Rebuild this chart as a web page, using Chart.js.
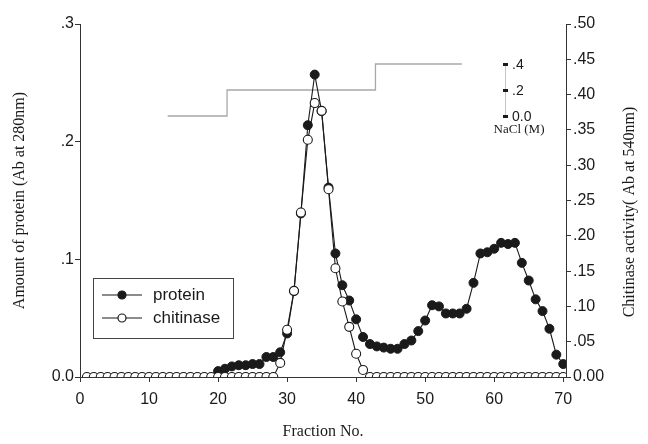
<!DOCTYPE html>
<html><head><meta charset="utf-8">
<script src="https://cdn.jsdelivr.net/npm/chart.js@4/dist/chart.umd.min.js"></script>
<style>html,body{margin:0;padding:0;background:#fff}#wrap{width:648px;height:444px}</style>
</head><body><div id="wrap"><canvas id="c" width="648" height="444"></canvas></div>
<script>
const fractions = [1,2,3,4,5,6,7,8,9,10,11,12,13,14,15,16,17,18,19,20,
  21,22,23,24,25,26,27,28,29,30,31,32,33,34,35,36,37,38,39,40,
  41,42,43,44,45,46,47,48,49,50,51,52,53,54,55,56,57,58,59,60,
  61,62,63,64,65,66,67,68,69,70];
const protein = [null,null,null,null,null,null,null,null,null,null,
  null,null,null,null,null,null,null,null,null,0.005,
  0.007,0.009,0.010,0.010,0.011,0.011,0.017,0.017,0.021,0.037,
  0.073,0.139,0.214,0.257,0.226,0.161,0.105,0.078,0.065,0.049,
  0.034,0.028,0.026,0.025,0.024,0.024,0.028,0.031,0.039,0.048,
  0.061,0.060,0.054,0.054,0.054,0.058,0.080,0.105,0.106,0.109,
  0.114,0.113,0.114,0.097,0.082,0.066,0.056,0.041,0.019,0.011];
const chitinase = [0,0,0,0,0,0,0,0,0,0,
  0,0,0,0,0,0,0,0,0,0,
  0,0,0,0,0,0,0,0,0.020,0.067,
  0.122,0.233,0.336,0.388,0.377,0.266,0.154,0.107,0.071,0.033,
  0.010,0,0,0,0,0,0,0,0,0,
  0,0,0,0,0,0,0,0,0,0,
  0,0,0,0,0,0,0,0,0,0];
const naclFraction = [12.7, 21.3, 42.8, 55.3];
const naclMolar = [0, 0.2, 0.4, 0.4];
const naclTicks = [0, 0.2, 0.4];
const naclTickLabels = ['0.0', '.2', '.4'];
const xTicks = [0,10,20,30,40,50,60,70];
const leftTicks = [0, 0.1, 0.2, 0.3];
const leftTickLabels = ['0.0', '.1', '.2', '.3'];
const rightTicks = [0,0.05,0.1,0.15,0.2,0.25,0.3,0.35,0.4,0.45,0.5];
const rightTickLabels = ['0.00','.05','.10','.15','.20','.25','.30','.35','.40','.45','.50'];
const seriesNames = ['protein', 'chitinase'];
const xTitle = 'Fraction No.';
const leftTitle = 'Amount of protein (Ab at 280nm)';
const rightTitle = 'Chitinase activity( Ab at 540nm)';
const naclTitle = 'NaCl (M)';

const SANS = '"Liberation Sans", Arial, sans-serif';
const SERIF = '"Liberation Serif", "Times New Roman", serif';
const INK = '#1a1a1a';

const overlay = {
  id: 'overlay',
  afterDraw(chart) {
    const ctx = chart.ctx;
    const xs = chart.scales.x, ns = chart.scales.nacl;
    ctx.save();
    // NaCl mini axis
    const ax = Math.round(xs.getPixelForValue(61.6));
    ctx.strokeStyle = '#c4c4c4'; ctx.lineWidth = 1;
    ctx.beginPath();
    ctx.moveTo(ax + 0.5, ns.getPixelForValue(naclTicks[0]));
    ctx.lineTo(ax + 0.5, ns.getPixelForValue(naclTicks[naclTicks.length - 1]));
    ctx.stroke();
    ctx.fillStyle = INK;
    ctx.font = '14px ' + SANS;
    ctx.textBaseline = 'middle'; ctx.textAlign = 'left';
    naclTicks.forEach((v, i) => {
      const y = ns.getPixelForValue(v);
      ctx.fillRect(ax - 2, y - 1, 5, 3);
      ctx.fillText(naclTickLabels[i], ax + 7, y + 1);
    });
    ctx.font = '13px ' + SERIF;
    ctx.textAlign = 'center';
    ctx.fillText(naclTitle, ax + 14, ns.getPixelForValue(naclTicks[0]) + 14);
    // right title (reads bottom to top)
    ctx.save();
    ctx.translate(630, 212);
    ctx.rotate(-Math.PI / 2);
    ctx.font = '16px ' + SERIF;
    ctx.textAlign = 'center'; ctx.textBaseline = 'middle';
    ctx.fillText(rightTitle, 0, 0);
    ctx.restore();
    // legend
    ctx.strokeStyle = '#444'; ctx.lineWidth = 1;
    ctx.strokeRect(93.5, 278.5, 140, 60);
    const rows = [295, 318];
    seriesNames.forEach((name, i) => {
      const y = rows[i];
      ctx.strokeStyle = INK; ctx.lineWidth = 1.2;
      ctx.beginPath(); ctx.moveTo(102, y); ctx.lineTo(142, y); ctx.stroke();
      ctx.beginPath(); ctx.arc(122, y, 4, 0, Math.PI * 2);
      ctx.fillStyle = i === 0 ? INK : '#fff';
      ctx.fill(); ctx.stroke();
      ctx.fillStyle = INK;
      ctx.font = '17px ' + SANS;
      ctx.textAlign = 'left'; ctx.textBaseline = 'middle';
      ctx.fillText(name, 153, y);
    });
    ctx.restore();
  }
};

const pts = arr => fractions.map((f, i) => ({x: f, y: arr[i]}));

new Chart(document.getElementById('c'), {
  type: 'line',
  data: {
    datasets: [
      {
        label: seriesNames[1], data: pts(chitinase), yAxisID: 'y1',
        borderColor: INK, borderWidth: 1.1, tension: 0,
        pointRadius: 4.5, pointBackgroundColor: '#fff', pointBorderColor: INK, pointBorderWidth: 1.1
      },
      {
        label: seriesNames[0], data: pts(protein), yAxisID: 'y',
        borderColor: INK, borderWidth: 1.1, tension: 0, spanGaps: false,
        pointRadius: 4.5, pointBackgroundColor: INK, pointBorderColor: INK, pointBorderWidth: 1
      },
      {
        label: 'NaCl', data: naclFraction.map((f, i) => ({x: f, y: naclMolar[i]})), yAxisID: 'nacl',
        borderColor: '#a8a8a8', borderWidth: 1.3, stepped: 'before', pointRadius: 0, fill: false
      }
    ]
  },
  options: {
    responsive: false, animation: false, devicePixelRatio: 1,
    layout: {padding: {top: 24, left: 0, right: 0, bottom: 0}},
    plugins: {legend: {display: false}, tooltip: {enabled: false}},
    scales: {
      x: {
        type: 'linear', min: 0, max: 70.4,
        afterBuildTicks: s => { s.ticks = xTicks.map(v => ({value: v})); },
        afterFit: s => { s.height = 67; },
        ticks: {color: INK, font: {family: SANS, size: 16}, padding: 8, maxRotation: 0},
        grid: {drawOnChartArea: false, drawTicks: true, tickLength: 5, color: '#333'},
        border: {color: '#333', width: 1},
        title: {display: true, text: xTitle, color: INK, font: {family: SERIF, size: 16}, padding: {top: 0, bottom: 3}}
      },
      y: {
        position: 'left', min: 0, max: 0.3,
        afterBuildTicks: s => { s.ticks = leftTicks.map(v => ({value: v})); },
        afterFit: s => { s.width = 80; },
        ticks: {color: INK, font: {family: SANS, size: 16}, padding: 1,
          callback: (v, i) => leftTickLabels[i]},
        grid: {drawOnChartArea: false, drawTicks: true, tickLength: 5, color: '#333'},
        border: {color: '#333', width: 1},
        title: {display: true, text: leftTitle, color: INK, font: {family: SERIF, size: 16}, padding: {top: 10, bottom: 0}}
      },
      y1: {
        position: 'right', min: 0, max: 0.5,
        afterBuildTicks: s => { s.ticks = rightTicks.map(v => ({value: v})); },
        afterFit: s => { s.width = 82; },
        ticks: {color: INK, font: {family: SANS, size: 16}, padding: 2,
          callback: (v, i) => rightTickLabels[i]},
        grid: {drawOnChartArea: false, drawTicks: true, tickLength: 5, color: '#333'},
        border: {color: '#333', width: 1}
      },
      nacl: {
        display: false, min: -2.0077, max: 0.7077
      }
    }
  },
  plugins: [overlay]
});
</script>
</body></html>
